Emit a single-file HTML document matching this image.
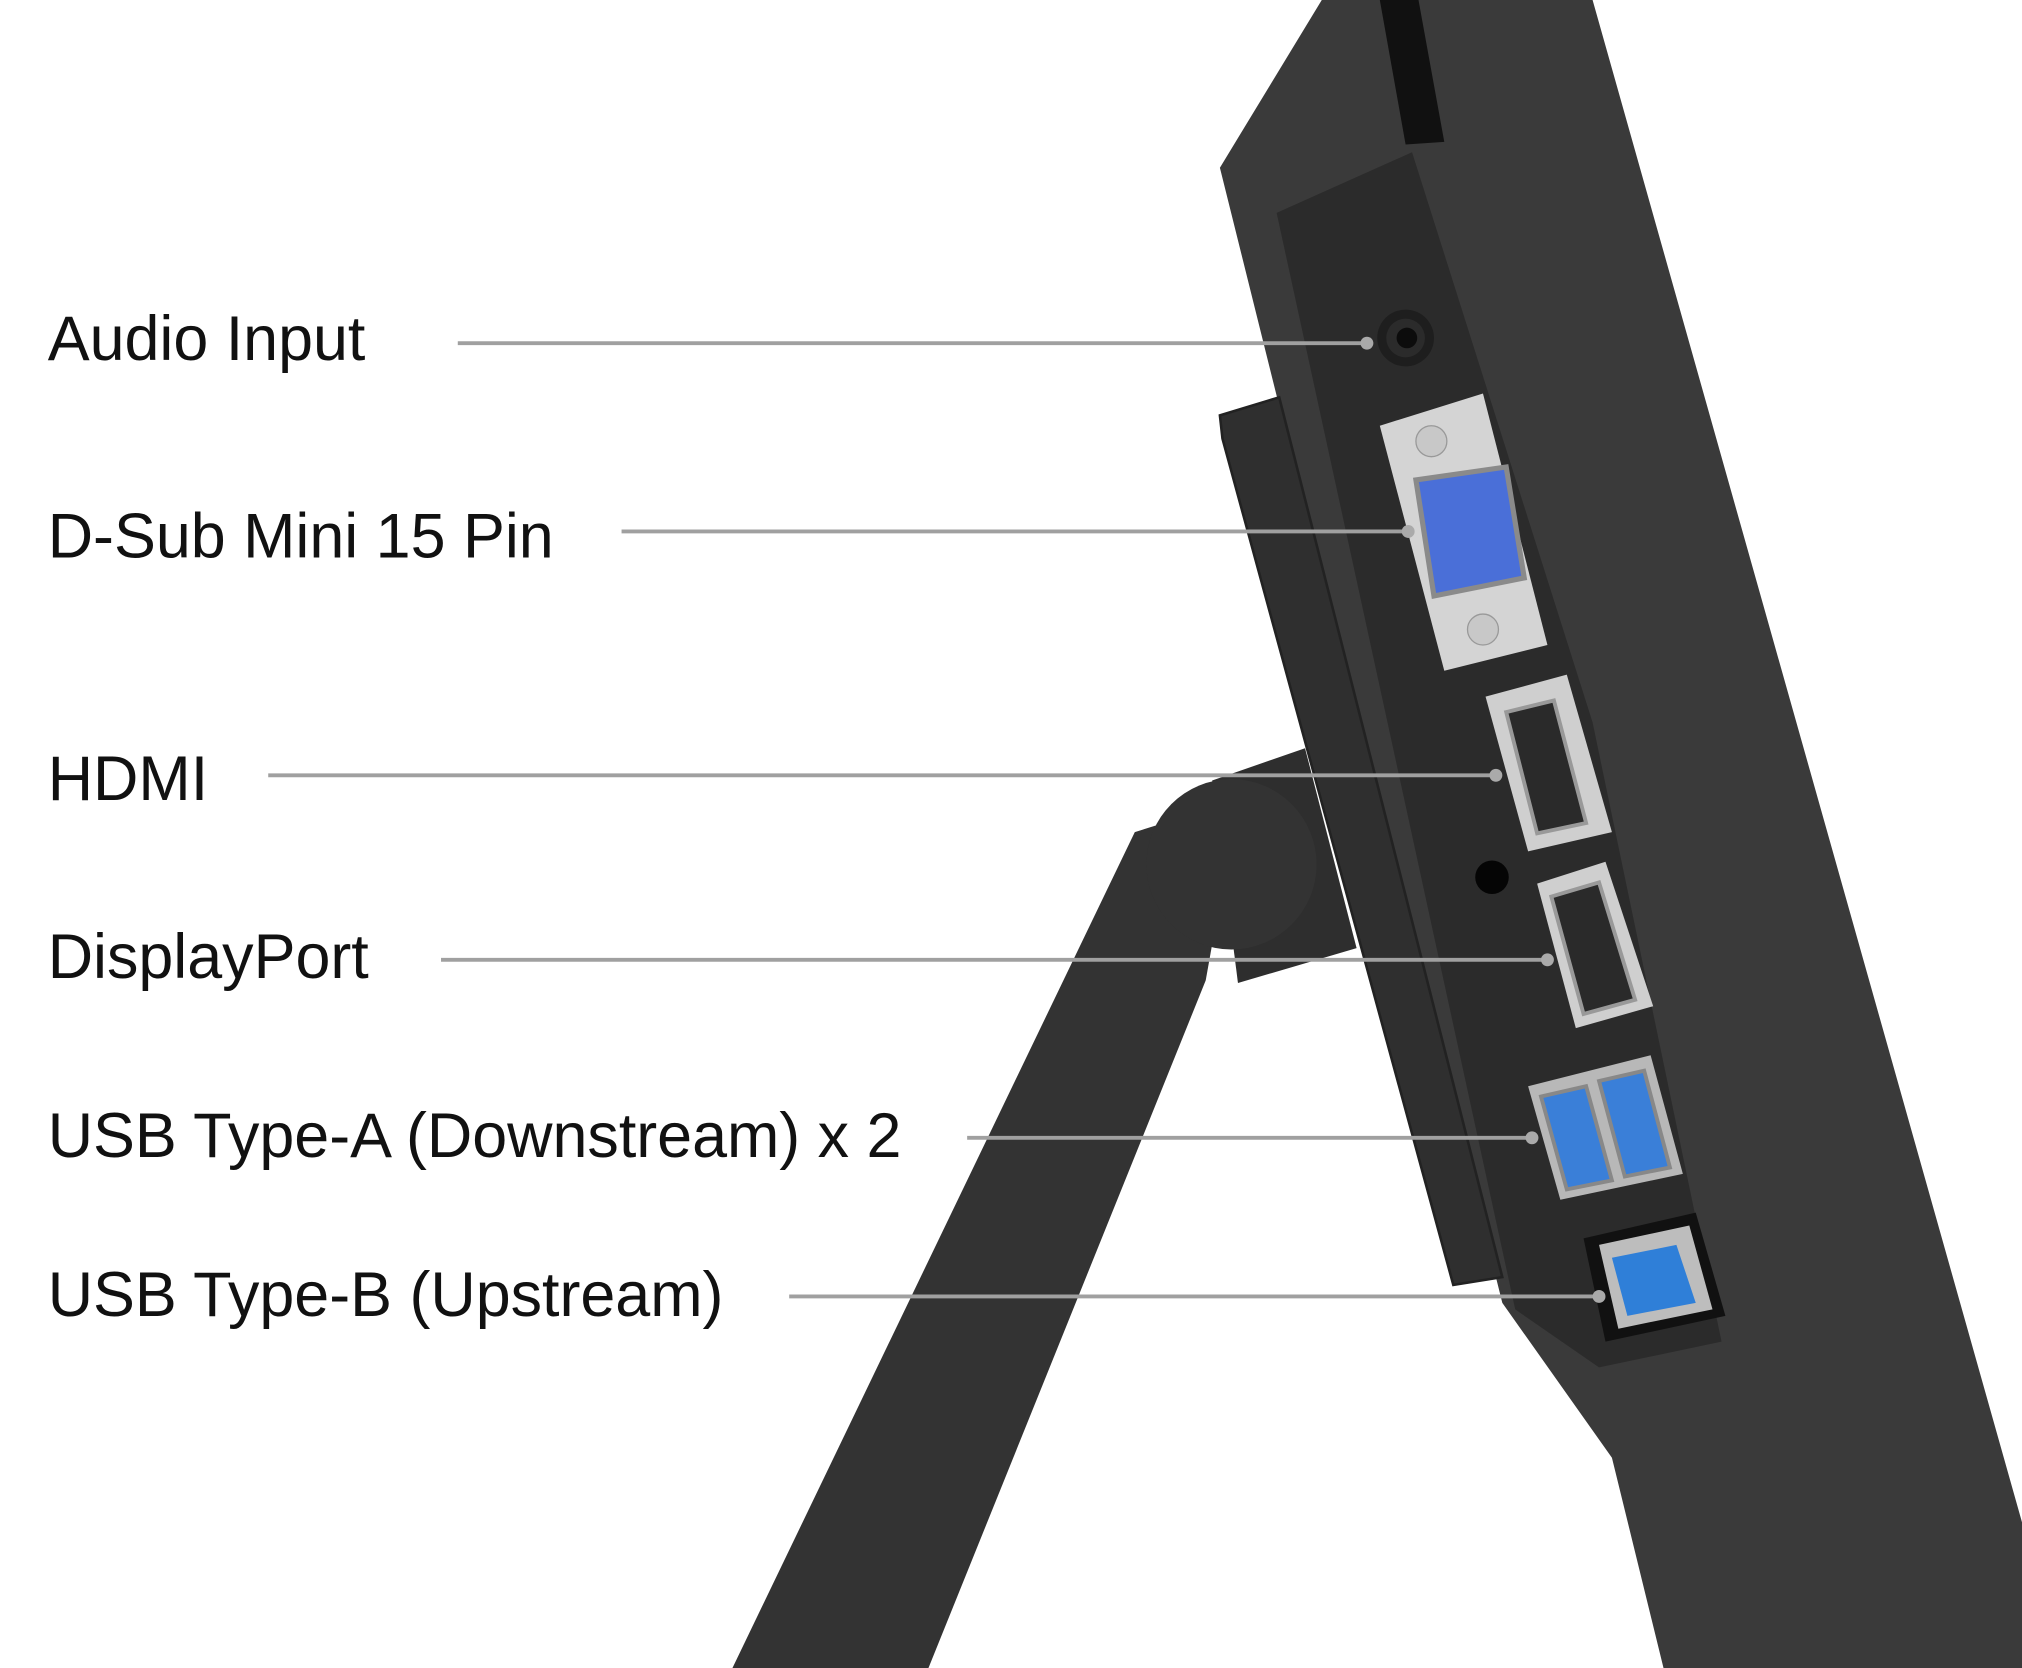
<!DOCTYPE html>
<html><head><meta charset="utf-8"><style>
html,body{margin:0;padding:0;background:#fff;}
svg{display:block;}
text{font-family:"Liberation Sans",Arial,sans-serif;font-size:48.7px;fill:#111;}
</style></head><body>
<svg width="2022" height="1668" viewBox="0 0 1568 1293" preserveAspectRatio="none" xmlns="http://www.w3.org/2000/svg">
<rect width="1568" height="1293" fill="#fff"/>
<!-- stand leg -->
<polygon points="880,645 960,620 935,760 720,1293 568,1293" fill="#333"/>
<polygon points="940,605 1012,580 1052,735 960,762" fill="#2e2e2e"/>
<circle cx="955" cy="670" r="66" fill="#333"/>
<!-- monitor body -->
<polygon points="1025,0 1235,0 1568,1180 1568,1293 1290,1293 1250,1130 1165,1010 946,130" fill="#3a3a3a"/>
<polygon points="1070,0 1100,0 1120,110 1090,112" fill="#111"/>
<!-- recessed panel -->
<polygon points="990,165 1095,118 1235,560 1335,1040 1240,1060 1175,1015" fill="#2b2b2b"/>
<!-- side block -->
<polygon points="946,322 992,308 1165,990 1127,996 948,340" fill="#2f2f2f" stroke="#222" stroke-width="2"/>
<!-- audio -->
<circle cx="1090" cy="262" r="22" fill="#1e1e1e"/>
<circle cx="1090" cy="262" r="15" fill="#2b2b2b"/>
<circle cx="1091" cy="262" r="8" fill="#0c0c0c"/>
<!-- VGA -->
<polygon points="1070,330 1150,305 1200,500 1120,520" fill="#d4d4d4"/>
<circle cx="1110" cy="342" r="12" fill="#c8c8c8" stroke="#999"/>
<circle cx="1150" cy="488" r="12" fill="#c8c8c8" stroke="#999"/>
<polygon points="1098,372 1168,362 1182,448 1112,462" fill="#4a6fd8" stroke="#8a8a8a" stroke-width="4"/>
<!-- HDMI -->
<polygon points="1152,540 1215,523 1250,645 1185,660" fill="#cfcfcf"/>
<polygon points="1168,552 1205,543 1230,638 1192,646" fill="#2a2a2a" stroke="#999" stroke-width="3"/>
<circle cx="1157" cy="680" r="13" fill="#050505"/>
<!-- DP -->
<polygon points="1192,685 1245,668 1282,780 1222,797" fill="#cfcfcf"/>
<polygon points="1203,695 1240,684 1268,775 1228,786" fill="#2a2a2a" stroke="#999" stroke-width="3"/>
<!-- USB A -->
<polygon points="1185,842 1280,818 1305,910 1210,930" fill="#b8b8b8"/>
<polygon points="1195,850 1230,842 1250,915 1215,922" fill="#3a7fd8" stroke="#888" stroke-width="3"/>
<polygon points="1240,838 1275,830 1295,905 1260,912" fill="#3a7fd8" stroke="#888" stroke-width="3"/>
<!-- USB B -->
<polygon points="1228,960 1315,940 1338,1020 1245,1040" fill="#111"/>
<polygon points="1240,965 1310,950 1328,1015 1255,1030" fill="#bdbdbd"/>
<polygon points="1250,975 1300,965 1315,1010 1262,1020" fill="#2f7fd8"/>
<!-- lines -->
<g stroke="#a0a0a0" stroke-width="3">
<line x1="355" y1="266" x2="1058" y2="266"/>
<line x1="482" y1="412" x2="1090" y2="412"/>
<line x1="208" y1="601" x2="1158" y2="601"/>
<line x1="342" y1="744" x2="1198" y2="744"/>
<line x1="750" y1="882" x2="1186" y2="882"/>
<line x1="612" y1="1005" x2="1238" y2="1005"/>
</g>
<g fill="#aaa">
<circle cx="1060" cy="266" r="5"/><circle cx="1092" cy="412" r="5"/>
<circle cx="1160" cy="601" r="5"/><circle cx="1200" cy="744" r="5"/>
<circle cx="1188" cy="882" r="5"/><circle cx="1240" cy="1005" r="5"/>
</g>
<text x="37" y="279">Audio Input</text>
<text x="37" y="432">D-Sub Mini 15 Pin</text>
<text x="37" y="620">HDMI</text>
<text x="37" y="758">DisplayPort</text>
<text x="37" y="897">USB Type-A (Downstream) x 2</text>
<text x="37" y="1020">USB Type-B (Upstream)</text>
</svg>
</body></html>
